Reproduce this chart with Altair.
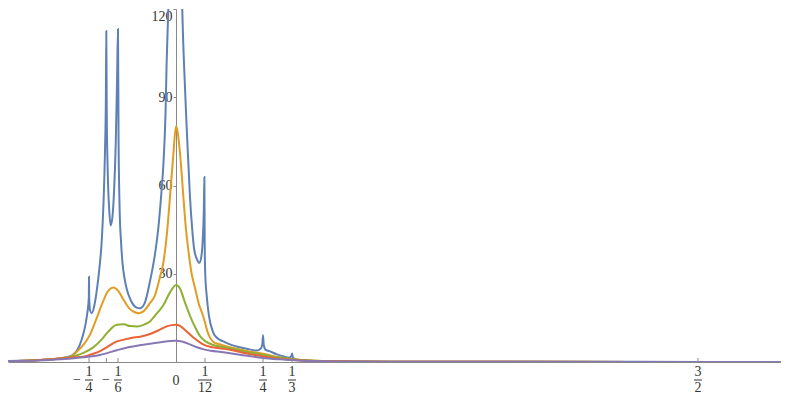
import altair as alt
import pandas as pd

# ---------------- data ----------------
blue_x = [-0.483, -0.45, -0.40, -0.35, -0.32, -0.30, -0.285, -0.27, -0.26, -0.255, -0.2505, -0.25,
          -0.2495, -0.247, -0.242, -0.235, -0.228, -0.22, -0.213, -0.208, -0.204, -0.2015, -0.2003,
          -0.199, -0.196, -0.192, -0.188, -0.183, -0.178, -0.173, -0.1695, -0.1667, -0.165, -0.162,
          -0.158, -0.154, -0.148, -0.142, -0.13, -0.113, -0.103, -0.09, -0.075, -0.06, -0.051, -0.043,
          -0.036, -0.030, -0.027, -0.022, -0.015, -0.005, 0.0, 0.008, 0.014, 0.018, 0.023, 0.031,
          0.040, 0.046, 0.052, 0.060, 0.067, 0.073, 0.077, 0.080, 0.0815, 0.0825, 0.084, 0.088,
          0.095, 0.107, 0.12, 0.136, 0.155, 0.18, 0.203, 0.232, 0.243, 0.248, 0.25, 0.252, 0.257,
          0.268, 0.29, 0.31, 0.325, 0.331, 0.3335, 0.336, 0.345, 0.36, 0.4, 0.5, 0.7, 1.0, 1.5, 1.74]
blue_y = [0.3, 0.4, 0.6, 1.0, 1.5, 2.2, 3.8, 8.0, 12.8, 16.5, 22, 29,
          22, 17.5, 16.6, 19, 24, 32, 42, 55, 72, 90, 112.5,
          85, 64, 52, 46.4, 49, 58, 75, 95, 113.2, 75, 52,
          41, 34, 28.5, 25, 21, 18.5, 18.3, 20, 27.3, 37, 45.3, 56,
          67.7, 85, 101.4, 120, 150, 250, 300, 200, 145, 120, 101.4, 79,
          56.5, 46, 38.5, 35, 33.7, 36, 42, 52, 62.9, 40, 30, 22.8,
          15.5, 10, 8, 7, 6.0, 5.1, 4.5, 3.9, 4.5, 6, 9.1, 6, 4.2,
          3.7, 2.6, 1.9, 1.5, 1.9, 2.9, 1.6, 0.9, 0.6, 0.35, 0.2, 0.1, 0.06, 0.04, 0.03]

orange_x = [-0.483, -0.40, -0.35, -0.32, -0.30, -0.285, -0.265, -0.247, -0.228, -0.21, -0.195,
            -0.18, -0.165, -0.15, -0.135, -0.12, -0.108, -0.094, -0.075, -0.06, -0.048, -0.036,
            -0.025, -0.017, -0.008, 0.0, 0.005, 0.0115, 0.021, 0.028, 0.035, 0.045, 0.055, 0.065,
            0.074, 0.082, 0.09, 0.098, 0.11, 0.12, 0.136, 0.155, 0.2, 0.25, 0.29, 0.337, 0.4, 0.5,
            0.7, 1.0, 1.74]
orange_y = [0.3, 0.6, 1.0, 1.3, 2.0, 3.5, 6, 9.3, 14.9, 20.5, 24.2,
            25.3, 24, 21, 18.3, 17, 16.6, 17.2, 20, 22.8, 28, 34,
            45, 56.5, 70, 80.1, 78, 71, 56.5, 46, 38.5, 30, 25, 20,
            17, 14, 10.5, 8.2, 6.6, 6.2, 5.6, 5.0, 3.8, 2.8, 1.7, 0.9, 0.4, 0.2,
            0.1, 0.06, 0.03]

green_x = [-0.483, -0.40, -0.35, -0.30, -0.266, -0.24, -0.218, -0.195, -0.17, -0.15, -0.132,
           -0.11, -0.09, -0.075, -0.055, -0.036, -0.018, 0.0, 0.0115, 0.025, 0.040, 0.055, 0.069,
           0.085, 0.107, 0.13, 0.155, 0.2, 0.25, 0.3, 0.35, 0.4, 0.5, 0.7, 1.0, 1.74]
green_y = [0.3, 0.6, 1.0, 1.8, 3.1, 4.8, 7.1, 10.3, 12.7, 12.8, 12.2,
           12.1, 12.8, 13.8, 16.5, 19.4, 23.5, 26.2, 25.0, 20.5, 15.8, 11.8, 8.8,
           7.0, 5.8, 5.2, 4.7, 3.5, 2.5, 1.5, 0.8, 0.45, 0.2, 0.1, 0.06, 0.03]

red_x = [-0.483, -0.40, -0.35, -0.30, -0.266, -0.24, -0.218, -0.195, -0.17, -0.15, -0.132, -0.1,
         -0.075, -0.05, -0.025, 0.0, 0.0115, 0.025, 0.05, 0.075, 0.1, 0.13, 0.155, 0.2, 0.25, 0.3,
         0.35, 0.4, 0.5, 0.7, 1.0, 1.74]
red_y = [0.3, 0.6, 1.0, 1.5, 1.8, 2.7, 3.7, 5.3, 7.0, 7.6, 8.1, 8.7,
         9.5, 10.8, 12.2, 12.7, 12.3, 11.0, 8.3, 6.2, 5.1, 4.6, 4.2, 3.0, 1.9, 1.1,
         0.6, 0.35, 0.2, 0.1, 0.06, 0.03]

purple_x = [-0.483, -0.40, -0.35, -0.30, -0.266, -0.218, -0.17, -0.137, -0.1, -0.075, -0.04, 0.0,
            0.02, 0.04, 0.06, 0.08, 0.1, 0.13, 0.155, 0.2, 0.25, 0.3, 0.35, 0.4, 0.5, 0.7, 1.0, 1.74]
purple_y = [0.3, 0.5, 0.8, 1.2, 1.6, 2.4, 4.0, 5.0, 5.8, 6.2, 6.8, 7.2,
            6.9, 6.0, 5.0, 4.3, 3.8, 3.4, 3.0, 2.2, 1.4, 0.9, 0.5, 0.3, 0.15, 0.1, 0.06, 0.03]

tick_vals = [-1/4, -1/5, -1/6, 1/12, 1/4, 1/3, 3/2]
label_vals = [-1/4, -1/6, 1/12, 1/4, 1/3, 3/2]
label_num = ["1", "1", "1", "1", "1", "3"]
label_den = ["4", "6", "12", "4", "3", "2"]
label_neg = [True, True, False, False, False, False]
y_ticks = [30, 60, 90, 120]

# ---------------- chart ----------------
W, H = 773, 353
X_DOM = [-0.48276, 1.73851]
AX = "#888888"
TXT = "#333333"
FONT = "Liberation Serif"

series = [("s1", blue_x, blue_y, "#5E81B5"),
          ("s2", orange_x, orange_y, "#E19C24"),
          ("s3", green_x, green_y, "#8FB032"),
          ("s4", red_x, red_y, "#EB6235"),
          ("s5", purple_x, purple_y, "#8778B3")]
rows = []
for name, xs_, ys_, _ in series:
    rows += [{"s": name, "x": a, "y": b} for a, b in zip(xs_, ys_)]
df = pd.DataFrame(rows)

xscale = alt.Scale(domain=X_DOM, nice=False, zero=False)
yscale = alt.Scale(domain=[0, 120], nice=False, zero=False)
x_axis = alt.Axis(labels=False, ticks=False, grid=False, title=None,
                  domainColor=AX, domainWidth=1)
y_axis = alt.Axis(values=y_ticks, offset=-168, tickSize=3, labelPadding=1,
                  domainColor=AX, tickColor=AX, labelFont=FONT, labelFontSize=14,
                  labelColor=TXT, grid=False, title=None, labelFlush=True)

X = alt.X("x:Q", scale=xscale, axis=x_axis)
Y = alt.Y("y:Q", scale=yscale, axis=y_axis)

layers = []
for name, _, _, col in series:
    layers.append(
        alt.Chart(df).transform_filter(alt.datum.s == name)
        .mark_line(color=col, strokeWidth=2, clip=True, interpolate="monotone")
        .encode(x=X, y=Y)
    )

ticks_df = pd.DataFrame({"x": tick_vals})
tick_rules = alt.Chart(ticks_df).mark_rule(color=AX, strokeWidth=1).encode(
    x=X, y=alt.value(H - 4), y2=alt.value(H))

lab_df = pd.DataFrame({"x": label_vals, "num": label_num, "den": label_den, "neg": label_neg})
num_text = alt.Chart(lab_df).mark_text(font=FONT, fontSize=14, color=TXT, baseline="middle").encode(
    x=X, y=alt.value(H + 10), text="num:N")
den_text = alt.Chart(lab_df).mark_text(font=FONT, fontSize=14, color=TXT, baseline="middle").encode(
    x=X, y=alt.value(H + 26), text="den:N")
bars1 = alt.Chart(lab_df).transform_filter("length(datum.den) == 1").mark_rule(
    color=TXT, strokeWidth=1, xOffset=-4, x2Offset=4).encode(
    x=X, x2=alt.X2("x"), y=alt.value(H + 18))
bars2 = alt.Chart(lab_df).transform_filter("length(datum.den) == 2").mark_rule(
    color=TXT, strokeWidth=1, xOffset=-7, x2Offset=7).encode(
    x=X, x2=alt.X2("x"), y=alt.value(H + 18))
minus = alt.Chart(lab_df).transform_filter(alt.datum.neg == True).transform_calculate(
    m="'−'").mark_text(font=FONT, fontSize=14, color=TXT, baseline="middle", dx=-12).encode(
    x=X, y=alt.value(H + 18), text="m:N")
zero_df = pd.DataFrame({"x": [0.0], "t": ["0"]})
zero_text = alt.Chart(zero_df).mark_text(font=FONT, fontSize=14, color=TXT, baseline="middle").encode(
    x=X, y=alt.value(H + 19), text="t:N")

chart = alt.layer(*layers, tick_rules, num_text, den_text, bars1, bars2, minus, zero_text).properties(
    width=W, height=H, padding={"left": 0, "top": 0, "right": 0, "bottom": 0}
).configure(background="white", view=alt.ViewConfig(stroke=None))

chart.save("out.html", embed_options={"renderer": "svg", "actions": False})
